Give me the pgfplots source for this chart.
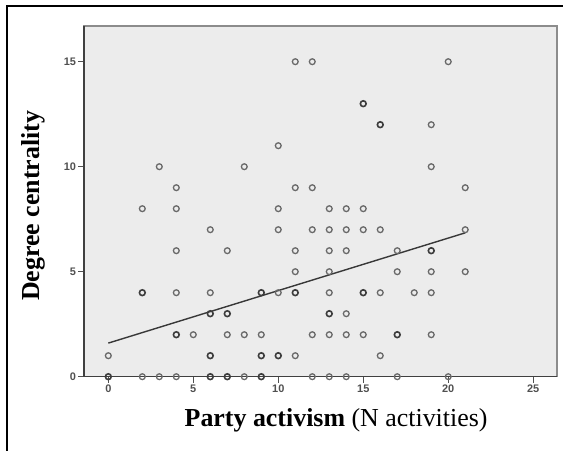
\documentclass[border=0pt]{standalone}
\usepackage{pgfplots}
\pgfplotsset{compat=1.18}
\usepackage{fontspec}
\setmainfont{Liberation Serif}
\newfontfamily\ticksans{Liberation Sans}
\definecolor{bgc}{RGB}{236,236,236}
\definecolor{markc}{RGB}{105,105,105}
\definecolor{markd}{RGB}{60,60,60}
\definecolor{tickc}{RGB}{80,80,80}
\definecolor{framec}{RGB}{140,140,140}
\begin{document}
\begin{tikzpicture}[x=1bp,y=1bp]
\useasboundingbox (0,0) rectangle (567,451);
\draw[black, line width=2bp] (7,0) -- (7,445) -- (563,445);
\begin{axis}[
  at={(84bp,74.3bp)}, anchor=south west,
  scale only axis, width=473bp, height=350.7bp,
  xmin=-1.43, xmax=26.4, ymin=0, ymax=16.7,
  xtick={0,5,10,15,20,25}, ytick={0,5,10,15},
  xtick pos=bottom, ytick pos=left,
  tick align=outside, major tick length=6bp,
  tick style={tickc, line width=1bp},
  axis background/.style={fill=bgc},
  axis line style={framec, line width=1.2bp},
  xticklabels={0,5,10,15,20,25},
  yticklabels={0,5,10,15},
  ticklabel style={font=\ticksans\bfseries\fontsize{11}{12}\selectfont, text=tickc},
  xticklabel style={yshift=1bp},
  yticklabel style={xshift=1.5bp},
  clip=false,
  xlabel={\fontsize{26}{30}\selectfont\textbf{Party activism} (N activities)},
  ylabel={\fontsize{26}{30}\selectfont\textbf{Degree centrality}},
  xlabel style={at={(axis description cs:0.533,-0.123)}, anchor=center},
  ylabel style={at={(axis description cs:-0.108,0.487)}, anchor=center, rotate=0},
]
\draw[black!75, line width=1.3bp] (rel axis cs:0,1) -- (rel axis cs:0,0) -- (rel axis cs:1,0);
\addplot[only marks, mark=o, mark size=2.9bp, mark options={draw=markc, line width=1.3bp}] coordinates {
(11,15) (12,15) (20,15)
(19,12)
(10,11)
(3,10) (8,10) (19,10)
(4,9) (11,9) (12,9) (21,9)
(2,8) (4,8) (10,8) (13,8) (14,8) (15,8)
(6,7) (10,7) (12,7) (13,7) (14,7) (15,7) (16,7) (21,7)
(4,6) (7,6) (11,6) (13,6) (14,6) (17,6)
(11,5) (13,5) (17,5) (19,5) (21,5)
(4,4) (6,4) (10,4) (13,4) (16,4) (18,4) (19,4)
(14,3)
(5,2) (7,2) (8,2) (9,2) (12,2) (13,2) (14,2) (15,2) (19,2)
(0,1) (11,1) (16,1)
(2,0) (3,0) (4,0) (8,0) (12,0) (13,0) (14,0) (17,0) (20,0)
};
\addplot[only marks, mark=o, mark size=2.9bp, mark options={draw=markd, line width=1.6bp}] coordinates {
(15,13) (16,12) (19,6)
(2,4) (9,4) (11,4) (15,4)
(6,3) (7,3) (13,3)
(4,2) (17,2)
(6,1) (9,1) (10,1)
(0,0) (6,0) (7,0) (9,0)
};
\addplot[no marks, color=black!78, line width=1.4bp] coordinates {(0,1.6) (21,6.85)};
\end{axis}
\end{tikzpicture}
\end{document}
